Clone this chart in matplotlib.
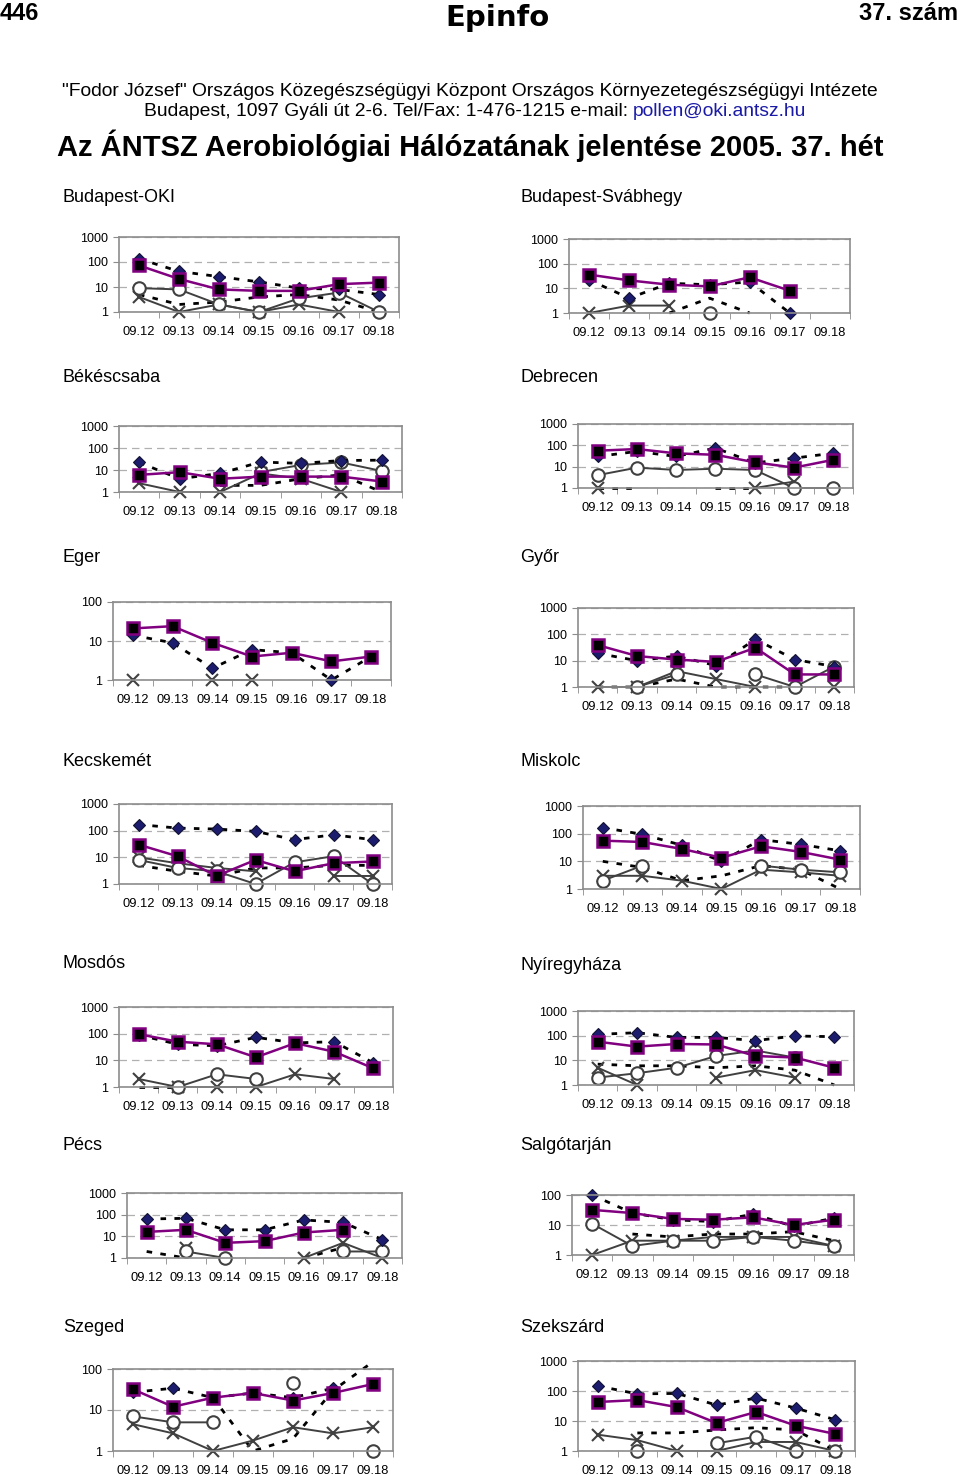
import numpy as np
import matplotlib
matplotlib.use("Agg")
import matplotlib.pyplot as plt

plt.rcParams['font.family'] = ['Liberation Sans', 'DejaVu Sans']

n = None
dates = ['09.12', '09.13', '09.14', '09.15', '09.16', '09.17', '09.18']
stations = ['Budapest-OKI', 'Budapest-Svábhegy', 'Békéscsaba', 'Debrecen', 'Eger', 'Győr',
            'Kecskemét', 'Miskolc', 'Mosdós', 'Nyíregyháza', 'Pécs', 'Salgótarján',
            'Szeged', 'Szekszárd']
ymax = [1000, 1000, 1000, 1000, 100, 1000, 1000, 1000, 1000, 1000, 1000, 100, 100, 1000]

# diamond series (dotted line)
s_diamond = [
    [135, 42, 26, 16, 9, 8, 5],
    [22, 4, 16, 14, 18, 1, n],
    [22, 4, 7, 23, 20, 27, 28],
    [30, 52, 30, 75, 15, 25, 43],
    [14, 9, 2, 6, 5, 1, 4],
    [19, 10, 15, 6.5, 65, 11, 6],
    [170, 125, 115, 94, 46, 70, 46],
    [165, 95, 38, 10, 61, 41, 24],
    [90, 40, 35, 73, 45, 50, 8],
    [113, 132, 85, 85, 63, 97, 91],
    [63, 68, 20, 20, 57, 44, 7],
    [100, 25, 15, 13, 23, 9, 17],
    [27, 34, 20, 26, 20, 34, n],
    [147, 80, 83, 34, 58, 27, 11],
]
# square series (purple line)
s_square = [
    [73, 21, 8, 7, 7, 13, 15],
    [36, 21, 14, 12, 28, 8, n],
    [6, 8, 4, 5, 5, 5, 3],
    [56, 67, 42, 36, 16, 9, 21],
    [21, 24, 9, 4, 5, 3, 4],
    [39, 15, 11, 9, 31, 3, 3],
    [30, 11, 2, 8, 3, 6, 7],
    [56, 50, 28, 13.5, 35, 22, 11.5],
    [96, 50, 40, 13, 44, 21, 5],
    [57, 36, 46, 44, 15, 13, 5],
    [16, 20, 5, 6, 15, 20, n],
    [32, 25, 16, 15, 18, 10, 15],
    [32, 12, 20, 26, 17, 26, 43],
    [43, 50, 29, 8.6, 20, 7, 3.7],
]
# circle series (grey line)
s_circle = [
    [9, 8, 2, 1, 3.5, 6, 1],
    [n, n, n, 1, n, n, n],
    [n, n, n, 8, 17, 22, 9],
    [4, 9, 7, 8, 7, 1, 1],
    [n, n, n, n, n, n, n],
    [n, 1, 3, n, 3, 1, 6],
    [8, 4, 3, 1, 6.5, 11, 1],
    [2, 7, n, n, 7, 5, 4],
    [n, 1, 3, 2, n, n, n],
    [2, 3, 5, 15, 25, 13, n],
    [n, 2, 1, n, n, 2, 2],
    [11, 2, 3, 3, 4, 3, 2],
    [7, 5, 5, n, 45, n, 1],
    [n, 1, n, 1.8, 3, 1, 1],
]
# cross series (grey line)
s_cross = [
    [4, 1, 2, 1, 2, 1, n],
    [1, 2, 2, n, n, n, n],
    [2.5, 1, 1, 7, 4, 1, n],
    [1, n, n, n, 1, 2, n],
    [1, n, 1, 1, n, n, n],
    [1, 1, 4, 2, 1, n, 1],
    [10, 6, 4, 3, n, 2, 2],
    [3, 3, 2, 1, 5, 4, 3],
    [2, 1, 1, 1, 3, 2, n],
    [5, 1, n, 2, 4, 2, n],
    [n, 3, n, n, 1, 5, 1],
    [1, 3, 3, 4, 4, 4, 2],
    [4.5, 2.7, 1, 1.8, 3.8, 2.7, 3.8],
    [3.5, 2.3, 1, 1, 2, 2, 1],
]
# dotted series without markers
s_plain = [
    [5, 2, 2.5, 4, 5, 3, 1],
    [n, n, 1, 4, 1, n, n],
    [n, n, 2, 2, 4, 6, 1],
    [1, 1, n, 1, 1, n, n],
    [n, n, n, n, n, n, n],
    [1, 1, 2, 1, 1, 1, n],
    [5, 3, 2, 4, 4, 5, 5],
    [10, 6, 2, 3, 7, 5, 1],
    [1, 1, n, n, n, n, n],
    [7, 6, 6, 5, 6, 4, 1],
    [2, 1, n, n, 1, 3, n],
    [n, 5, 4, 5, 5, 6, 3],
    [n, n, 20, 1, 2, 30, 150],
    [n, 4, 4, 5, 6, 5, 1],
]

# plot-area boxes in pixels: left, right, top, bottom
boxes = [
    (119, 399, 237, 312), (569, 850, 239, 313),
    (119, 402, 426, 492), (578, 853, 424, 488),
    (113, 391, 602, 680), (578, 854, 608, 687),
    (119, 392, 804, 884), (583, 860, 806, 889),
    (119, 393, 1007, 1087), (578, 854, 1011, 1085),
    (127, 402, 1193, 1258), (572, 854, 1195, 1255),
    (113, 393, 1369, 1451), (578, 855, 1361, 1451),
]
title_pos = [(63, 197), (520, 197), (63, 377), (520, 377), (63, 558), (520, 558),
             (63, 761), (520, 761), (63, 964), (520, 965), (63, 1146), (520, 1146),
             (63, 1327), (520, 1327)]

W, H = 960, 1475
fig = plt.figure(figsize=(W / 100, H / 100), dpi=100)
fig.patch.set_facecolor('white')


def fy(y):
    return 1 - y / H


# header
fig.text(0 / W, fy(13), '446', fontsize=17, fontweight='bold', va='center', ha='left')
fig.text(497 / W, fy(18), 'Epinfo', fontsize=21, fontweight='heavy', va='center',
         ha='center', family='DejaVu Sans')
fig.text(958 / W, fy(13), '37. szám', fontsize=17, fontweight='bold', va='center', ha='right')
fig.text(470 / W, fy(91), '"Fodor József" Országos Közegészségügyi Központ Országos '
         'Környezetegészségügyi Intézete', fontsize=13.9, ha='center', va='center')
fig.text(633 / W, fy(112), 'Budapest, 1097 Gyáli út 2-6. Tel/Fax: 1-476-1215 e-mail: ',
         fontsize=13.9, ha='right', va='center')
fig.text(633 / W, fy(112), 'pollen@oki.antsz.hu', fontsize=13.9, ha='left', va='center',
         color='#1a1aa6')
fig.text(470 / W, fy(146), 'Az ÁNTSZ Aerobiológiai Hálózatának jelentése 2005. 37. hét',
         fontsize=21, fontweight='bold', ha='center', va='center')

x = np.arange(len(dates))


def arr(v):
    return np.array([np.nan if a is None else a for a in v], dtype=float)


for i, name in enumerate(stations):
    l, r, t, b = boxes[i]
    ax = fig.add_axes([l / W, 1 - b / H, (r - l) / W, (b - t) / H])
    ax.set_yscale('log')
    ax.set_ylim(1, ymax[i])
    ax.set_xlim(-0.5, len(dates) - 0.5)
    for sp in ax.spines.values():
        sp.set_color('#8c8c8c')
        sp.set_linewidth(1.2)
    ax.set_axisbelow(True)
    ax.yaxis.grid(True, which='major', color='#b0b0b0', linestyle=(0, (6, 4)), linewidth=0.9)
    ax.minorticks_off()
    ticks = [10 ** k for k in range(int(np.log10(ymax[i])) + 1)]
    ax.set_yticks(ticks)
    ax.set_yticklabels([str(v) for v in ticks])
    ax.set_xticks(x)
    ax.set_xticklabels(dates)
    ax.set_xticks(np.arange(-0.5, len(dates)), minor=True)
    ax.tick_params(axis='x', which='major', length=0, labelsize=9.3, pad=10)
    ax.tick_params(axis='x', which='minor', length=4, color='#8c8c8c', direction='out')
    ax.tick_params(axis='y', which='major', length=4, color='#8c8c8c', labelsize=9, pad=4,
                   direction='out')

    ax.plot(x, arr(s_plain[i]), color='black', lw=2, linestyle=(0, (2, 3)), clip_on=False)
    ax.plot(x, arr(s_cross[i]), color='#404040', lw=1.4, marker='x', ms=9, mew=1.5,
            clip_on=False)
    ax.plot(x, arr(s_circle[i]), color='#404040', lw=1.4, marker='o', ms=9,
            mfc='white', mec='#404040', mew=1.5, clip_on=False)
    ax.plot(x, arr(s_diamond[i]), color='black', lw=2, linestyle=(0, (2, 3)), marker='D',
            ms=6.5, mfc='#1c1c6e', mec='#111133', mew=0.8, clip_on=False)
    ax.plot(x, arr(s_square[i]), color='#800080', lw=1.8, marker='s', ms=9,
            mfc='black', mec='#800080', mew=1.8, clip_on=False)

    tx, ty = title_pos[i]
    fig.text(tx / W, fy(ty), name, fontsize=13, ha='left', va='center')

fig.savefig('out.png', dpi=100, facecolor='white')
